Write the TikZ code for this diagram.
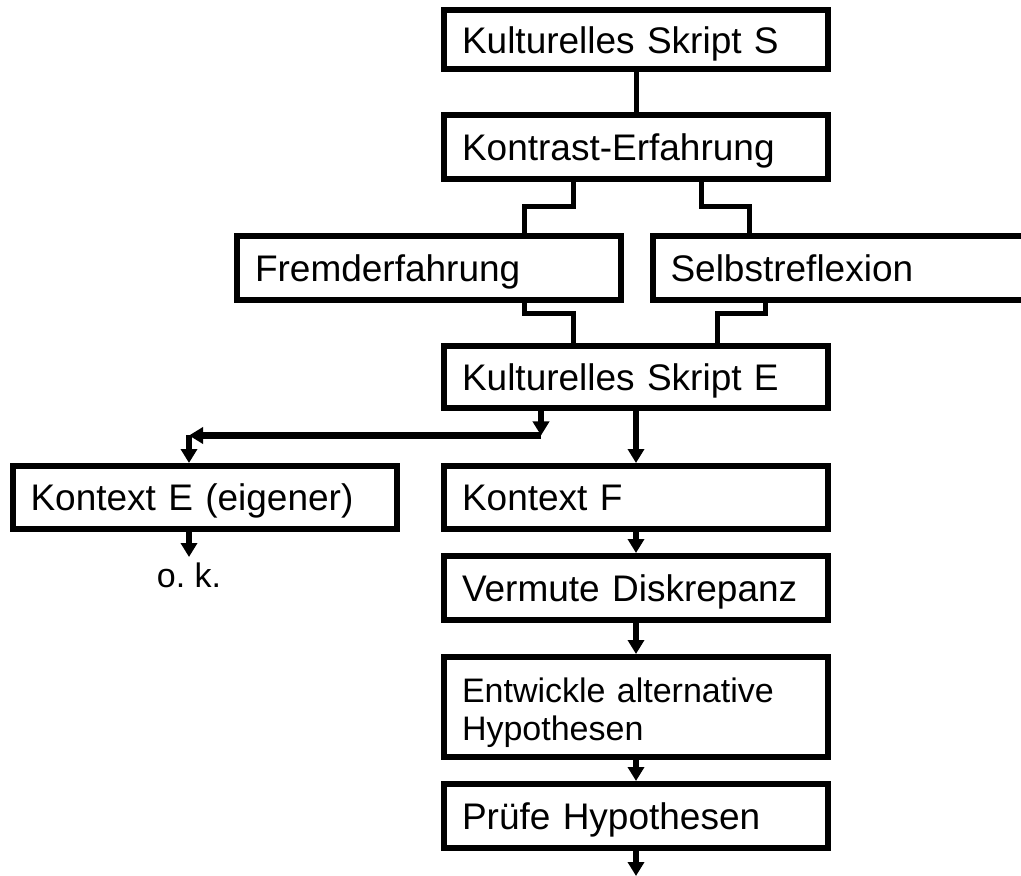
\documentclass[tikz,border=0pt]{standalone}
\usepackage{fontspec}
\setmainfont{Liberation Sans}
\usetikzlibrary{arrows.meta}
\begin{document}
\begin{tikzpicture}[x=0.5pt,y=-0.5pt,
  box/.style={draw=black,line width=3pt,rectangle,inner ysep=0pt,inner xsep=9pt,
    align=left,font=\fontsize{18.5}{22}\selectfont,text height=13.25pt,text depth=0pt},
  colbox/.style={box,minimum width=192pt,text width=174pt},
  conn/.style={draw=black,line width=2.5pt,line join=miter},
  arr/.style={draw=black,line width=3pt,-{Triangle[length=7pt,width=8pt]}}]
\useasboundingbox (0,0) rectangle (1021,876);
% boxes
\node[colbox,minimum height=29.5pt] (S) at (636,40) {Kulturelles Skript S};
\node[colbox,minimum height=32pt] (K) at (636,147) {Kontrast-Erfahrung};
\node[box,minimum width=192pt,text width=174pt,minimum height=32pt] (F) at (429,268) {Fremderfahrung};
\node[box,minimum width=194pt,text width=176pt,minimum height=32pt] (R) at (846.5,268) {Selbstreflexion};
\node[colbox,minimum height=31pt] (E) at (636,377) {Kulturelles Skript E};
\node[box,minimum width=192.25pt,text width=174.25pt,minimum height=31.5pt] (KE) at (204.75,497.5) {Kontext E (eigener)};
\node[colbox,minimum height=31.5pt] (KF) at (636,497.5) {Kontext F};
\node[colbox,minimum height=32pt] (V) at (636,588) {Vermute Diskrepanz};
\node[colbox,minimum height=50pt,font=\fontsize{17}{19}\selectfont,text height=12.2pt,text depth=17.2pt] (H) at (636,707) {Entwickle alternative\\Hypothesen};
\node[colbox,minimum height=32pt] (P) at (636,816) {Prüfe Hypothesen};
\node[font=\fontsize{17}{20}\selectfont,anchor=base,inner sep=0pt] (ok) at (189,587) {o.\ k.};
% connectors
\draw[conn] (S.south) -- (K.north);
\draw[conn] (573,0 |- K.south) -- (573,207) -- (524.5,207) -- (524.5,0 |- F.north);
\draw[conn] (701,0 |- K.south) -- (701,207) -- (749,207) -- (749,0 |- R.north);
\draw[conn] (524.5,0 |- F.south) -- (524.5,313.5) -- (573.5,313.5) -- (573.5,0 |- E.north);
\draw[conn] (765,0 |- R.south) -- (765,313.5) -- (717,313.5) -- (717,0 |- E.north);
% arrows
\coordinate (j1) at (541,435.5);
\coordinate (j2) at (189,435.5);
\coordinate (okend) at (189,557);
\coordinate (end) at (636,876);
\draw[arr] (E.south -| j1) -- (j1);
\draw[arr] (j1) -- (j2);
\draw[arr] (j2) -- (KE.north -| j2);
\draw[arr] (E.south) -- (KF.north);
\draw[arr] (KE.south -| j2) -- (okend);
\draw[arr] (KF.south) -- (V.north);
\draw[arr] (V.south) -- (H.north);
\draw[arr] (H.south) -- (P.north);
\draw[arr] (P.south) -- (end);
\end{tikzpicture}
\end{document}
